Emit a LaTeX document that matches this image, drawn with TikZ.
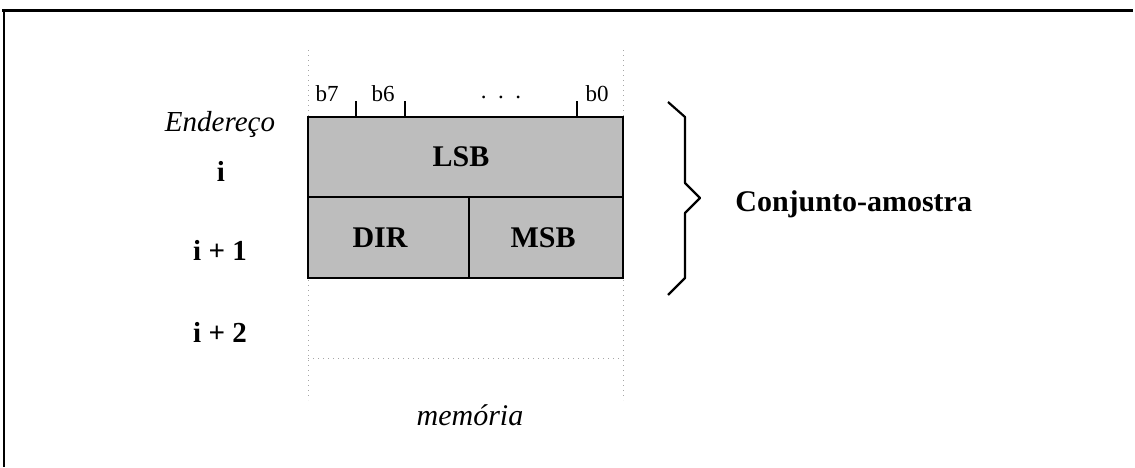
\documentclass[tikz,border=0pt]{standalone}
\usepackage{fontspec}
\setmainfont{Liberation Serif}
\usetikzlibrary{positioning}

\begin{document}
\begin{tikzpicture}[x=0.5pt, y=-0.5pt,
				cell/.style={fill=gray!52, draw=black, line width=1.1pt},
				grade/.style={gray!70, dotted, line width=0.5pt},
				bitlbl/.style={font=\fontsize{11.5}{13}\selectfont, inner sep=0pt},
				endlbl/.style={font=\fontsize{14.5}{16}\selectfont\bfseries, inner sep=0pt},
				campo/.style={font=\fontsize{15}{17}\selectfont\bfseries, inner sep=0pt},
				rotulo/.style={font=\fontsize{15}{17}\selectfont\itshape, inner sep=0pt}]
				\useasboundingbox (0,0) rectangle (1135,467);
				%Moldura
				\draw[line width=1.5pt] (2,10) -- (1133,10);
				\draw[line width=0.9pt] (4,10) -- (4,467);
				% Linhas pontilhadas da memoria
				\draw[grade] (308,50) -- (308,400);
				\draw[grade] (623,50) -- (623,400);
				\draw[grade] (308,358) -- (623,358);
				% Celulas
				\filldraw[cell] (308,117) rectangle (623,197);
				\filldraw[cell] (308,197) rectangle (469,278);
				\filldraw[cell] (469,197) rectangle (623,278);
				\node[campo] (lsb) at (461,157) {LSB};
				\node[campo] (dir) at (380,238) {DIR};
				\node[campo] (msb) at (543,238) {MSB};
				% Bits
				\node[bitlbl] (b7) at (327,94) {b7};
				\node[bitlbl] (b6) at (383,94) {b6};
				\node[bitlbl] (pts) at (501,97) {.~~.~~.};
				\node[bitlbl] (b0) at (597,94) {b0};
				\foreach \x in {356,405,577} \draw[line width=0.6pt] (\x,101) -- (\x,117);
				% Enderecos
				\node[rotulo, font=\fontsize{14.5}{16}\selectfont\itshape] (ender) at (220,124) {Endereço};
				\node[endlbl] (i0) at (221,171) {i};
				\node[endlbl] (i1) at (220,250) {i + 1};
				\node[endlbl] (i2) at (220,332) {i + 2};
				% Chave
				\draw[line width=1.1pt, line join=round] (668,102) -- (685,117) -- (685,183) -- (700,198) -- (685,213) -- (685,278) -- (668,295);
				\node[campo, anchor=west] (conj) at (735,204) {Conjunto-amostra};
				%Legenda
				\node[rotulo] (mem) at (470,415) {memória};
\end{tikzpicture}
\end{document}
